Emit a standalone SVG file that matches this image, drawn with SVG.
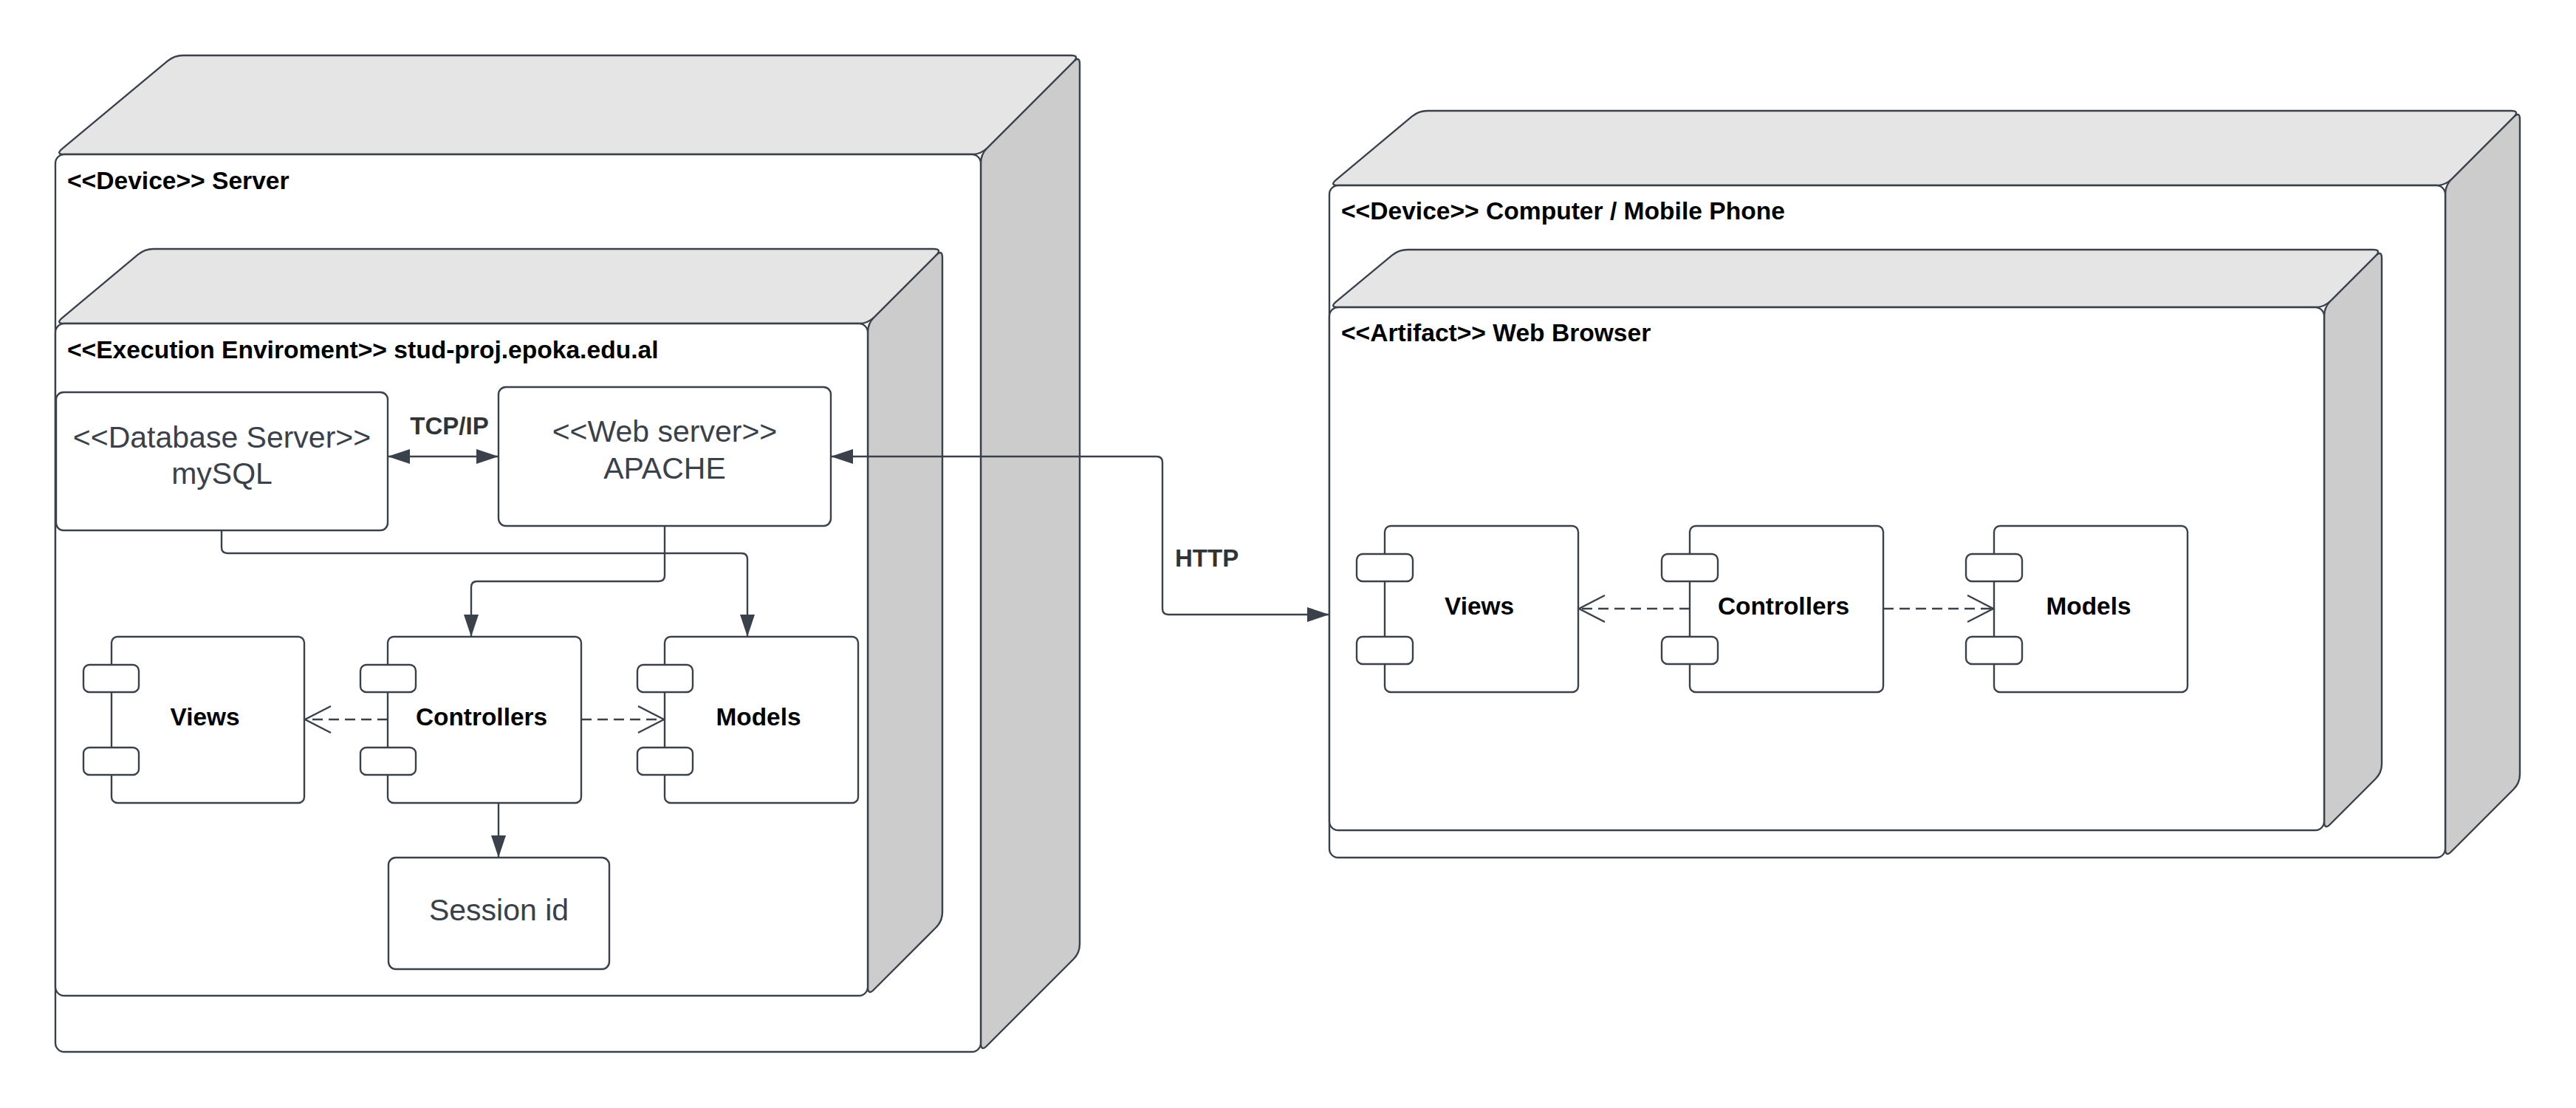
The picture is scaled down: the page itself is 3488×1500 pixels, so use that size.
<svg xmlns="http://www.w3.org/2000/svg" width="3488" height="1500" viewBox="0 0 3488 1500">
<style>
.ln{stroke:#3a414a;stroke-width:2.4;fill:none}
.front{fill:#ffffff;stroke:#3a414a;stroke-width:2.4}
.top{fill:#e5e5e5;stroke:#3a414a;stroke-width:2.4;stroke-linejoin:round}
.side{fill:#cccccc;stroke:#3a414a;stroke-width:2.4;stroke-linejoin:round}
.box{fill:#ffffff;stroke:#3a414a;stroke-width:2.4}
.hdr{font-family:"Liberation Sans",Arial,sans-serif;font-weight:bold;font-size:33.6px;fill:#000000}
.lbl{font-family:"Liberation Sans",Arial,sans-serif;font-weight:bold;font-size:33.4px;fill:#000000;text-anchor:middle}
.reg{font-family:"Liberation Sans",Arial,sans-serif;font-size:41px;fill:#3a414a;text-anchor:middle}
.conn{font-family:"Liberation Sans",Arial,sans-serif;font-weight:bold;font-size:33px;fill:#333333}
.dash{stroke-dasharray:14 8}
</style>
<defs>
<marker id="fa" markerUnits="userSpaceOnUse" markerWidth="32" markerHeight="22" refX="30" refY="10" orient="auto-start-reverse" viewBox="0 0 32 22">
<path d="M0,0 L30,10 L0,20 Z" fill="#3a414a"/>
</marker>
<marker id="oa" markerUnits="userSpaceOnUse" markerWidth="40" markerHeight="40" refX="36" refY="19" orient="auto" viewBox="0 0 40 40">
<path d="M1,1 L36,19 L1,37" fill="none" stroke="#3a414a" stroke-width="2.4"/>
</marker>
</defs>
<rect width="3488" height="1500" fill="#ffffff"/>

<g id="device-server">
<path class="side" d="M1336.5,200.5 L1453.5,83.5 Q1462,75 1462,87 L1462,1278 Q1462,1290 1453.5,1298.5 L1336.5,1415.5 Q1328,1424 1328,1412 L1328,221 Q1328,209 1336.5,200.5 Z"/>
<path class="top" d="M84.2,201.3 L226.8,82.7 Q236,75 248,75 L1450,75 Q1462,75 1453.5,83.5 L1336.5,200.5 Q1328,209 1316,209 L87,209 Q75,209 84.2,201.3 Z"/>
<rect class="front" x="75" y="209" width="1253" height="1215" rx="12"/>
<text class="hdr" x="91" y="256">&lt;&lt;Device&gt;&gt; Server</text>
</g>

<g id="exec-env">
<path class="side" d="M1183.5,429.5 L1267.5,345.5 Q1276,337 1276,349 L1276,1235 Q1276,1247 1267.5,1255.5 L1183.5,1339.5 Q1175,1348 1175,1336 L1175,450 Q1175,438 1183.5,429.5 Z"/>
<path class="top" d="M84.2,430.3 L186.8,344.7 Q196,337 208,337 L1264,337 Q1276,337 1267.5,345.5 L1183.5,429.5 Q1175,438 1163,438 L87,438 Q75,438 84.2,430.3 Z"/>
<rect class="front" x="75" y="438" width="1100" height="910" rx="12"/>
<text class="hdr" x="91" y="485">&lt;&lt;Execution Enviroment&gt;&gt; stud-proj.epoka.edu.al</text>
</g>

<g id="device-computer">
<path class="side" d="M3319.5,242.5 L3403.5,158.5 Q3412,150 3412,162 L3412,1048 Q3412,1060 3403.5,1068.5 L3319.5,1152.5 Q3311,1161 3311,1149 L3311,263 Q3311,251 3319.5,242.5 Z"/>
<path class="top" d="M1809.2,243.3 L1911.8,157.7 Q1921,150 1933,150 L3400,150 Q3412,150 3403.5,158.5 L3319.5,242.5 Q3311,251 3299,251 L1812,251 Q1800,251 1809.2,243.3 Z"/>
<rect class="front" x="1800" y="251" width="1511" height="910" rx="12"/>
<text class="hdr" x="1816" y="297">&lt;&lt;Device&gt;&gt; Computer / Mobile Phone</text>
</g>

<g id="artifact-browser">
<path class="side" d="M3155.5,407.5 L3216.5,346.5 Q3225,338 3225,350 L3225,1034 Q3225,1046 3216.5,1054.5 L3155.5,1115.5 Q3147,1124 3147,1112 L3147,428 Q3147,416 3155.5,407.5 Z"/>
<path class="top" d="M1809.2,408.3 L1884.8,345.7 Q1894,338 1906,338 L3213,338 Q3225,338 3216.5,346.5 L3155.5,407.5 Q3147,416 3135,416 L1812,416 Q1800,416 1809.2,408.3 Z"/>
<rect class="front" x="1800" y="416" width="1347" height="708" rx="12"/>
<text class="hdr" x="1816" y="462">&lt;&lt;Artifact&gt;&gt; Web Browser</text>
</g>

<g id="db-server">
<rect class="box" x="76" y="531" width="449" height="187" rx="10"/>
<text class="reg" x="300.5" y="606">&lt;&lt;Database Server&gt;&gt;</text>
<text class="reg" x="300.5" y="655">mySQL</text>
</g>

<g id="web-server">
<rect class="box" x="675" y="524" width="450" height="188" rx="10"/>
<text class="reg" x="900" y="598">&lt;&lt;Web server&gt;&gt;</text>
<text class="reg" x="900" y="648">APACHE</text>
</g>

<g id="session-id">
<rect class="box" x="526" y="1161" width="299" height="151" rx="10"/>
<text class="reg" x="675.5" y="1246">Session id</text>
</g>

<g id="srv-views">
<rect class="box" x="151" y="862" width="261" height="225" rx="8"/>
<rect class="box" x="113" y="900" width="75" height="37" rx="8"/>
<rect class="box" x="113" y="1012" width="75" height="37" rx="8"/>
<text class="lbl" x="277.5" y="982">Views</text>
</g>
<g id="srv-controllers">
<rect class="box" x="525" y="862" width="262" height="225" rx="8"/>
<rect class="box" x="488" y="900" width="75" height="37" rx="8"/>
<rect class="box" x="488" y="1012" width="75" height="37" rx="8"/>
<text class="lbl" x="652" y="982">Controllers</text>
</g>
<g id="srv-models">
<rect class="box" x="900" y="862" width="262" height="225" rx="8"/>
<rect class="box" x="863" y="900" width="75" height="37" rx="8"/>
<rect class="box" x="863" y="1012" width="75" height="37" rx="8"/>
<text class="lbl" x="1027" y="982">Models</text>
</g>

<g id="br-views">
<rect class="box" x="1875" y="712" width="262" height="225" rx="8"/>
<rect class="box" x="1837" y="750" width="76" height="37" rx="8"/>
<rect class="box" x="1837" y="862" width="76" height="37" rx="8"/>
<text class="lbl" x="2003" y="832">Views</text>
</g>
<g id="br-controllers">
<rect class="box" x="2288" y="712" width="262" height="225" rx="8"/>
<rect class="box" x="2250" y="750" width="76" height="37" rx="8"/>
<rect class="box" x="2250" y="862" width="76" height="37" rx="8"/>
<text class="lbl" x="2415" y="832">Controllers</text>
</g>
<g id="br-models">
<rect class="box" x="2700" y="712" width="262" height="225" rx="8"/>
<rect class="box" x="2662" y="750" width="76" height="37" rx="8"/>
<rect class="box" x="2662" y="862" width="76" height="37" rx="8"/>
<text class="lbl" x="2828" y="832">Models</text>
</g>

<g id="connectors">
<path class="ln" d="M525,618 L675,618" marker-start="url(#fa)" marker-end="url(#fa)"/>
<text class="conn" x="608.5" y="588" text-anchor="middle">TCP/IP</text>
<path class="ln" d="M900,712 L900,779 Q900,787 892,787 L646,787 Q638,787 638,795 L638,862" marker-end="url(#fa)"/>
<path class="ln" d="M300,718 L300,741 Q300,749 308,749 L1004,749 Q1012,749 1012,757 L1012,862" marker-end="url(#fa)"/>
<path class="ln" d="M675,1087 L675,1161" marker-end="url(#fa)"/>
<path class="ln dash" d="M525,974 L413,974" marker-end="url(#oa)"/>
<path class="ln dash" d="M787,974 L899,974" marker-end="url(#oa)"/>
<path class="ln" d="M1125,618 L1566,618 Q1574,618 1574,626 L1574,824 Q1574,832 1582,832 L1800,832" marker-start="url(#fa)" marker-end="url(#fa)"/>
<text class="conn" x="1591" y="767">HTTP</text>
<path class="ln dash" d="M2288,824 L2138,824" marker-end="url(#oa)"/>
<path class="ln dash" d="M2550,824 L2699,824" marker-end="url(#oa)"/>
</g>
</svg>
